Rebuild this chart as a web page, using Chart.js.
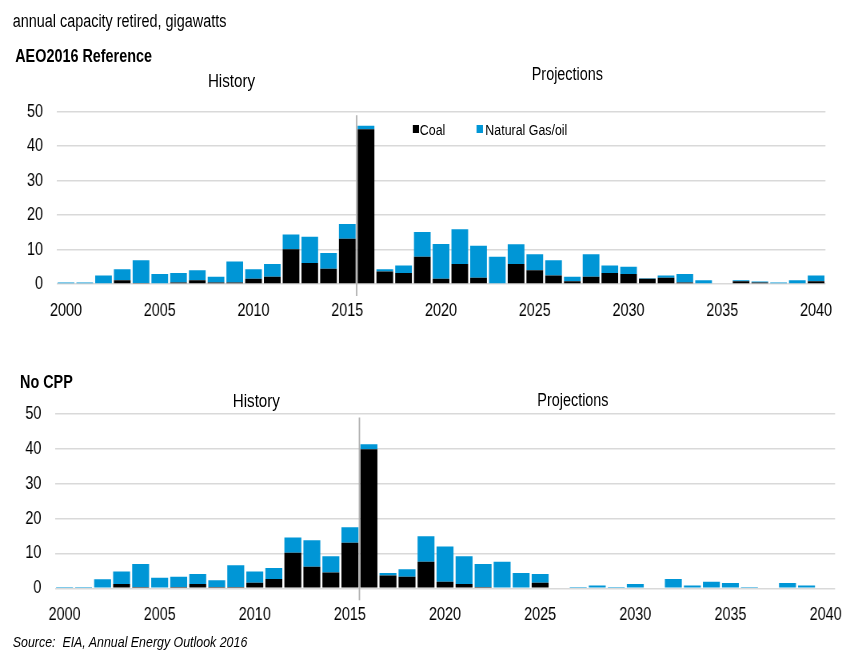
<!DOCTYPE html>
<html><head><meta charset="utf-8">
<script src="https://cdn.jsdelivr.net/npm/chart.js@4.4.1/dist/chart.umd.min.js"></script>
<style>
html,body{margin:0;padding:0;background:#fff}
body{width:842px;height:652px;position:relative;overflow:hidden}
#wrap{position:absolute;left:0;top:0;width:1053px;height:652px;transform:scaleX(0.79962);transform-origin:0 0;
  font-family:"Liberation Sans",Arial,sans-serif;color:#000}
.t{position:absolute;white-space:nowrap;line-height:1}
canvas{position:absolute;left:0}
.sq{position:absolute;width:8px;height:8px}
</style></head><body>
<div id="wrap">
<canvas id="c1" width="1053" height="240" style="top:95px;width:1053px;height:240px"></canvas>
<canvas id="c2" width="1053" height="240" style="top:400px;width:1053px;height:240px"></canvas>

<div class="t" style="left:16px;top:12px;font-size:18px">annual capacity retired, gigawatts</div>
<div class="t" style="left:19px;top:47px;font-size:18px;font-weight:bold">AEO2016 Reference</div>
<div class="t" style="left:260px;top:71px;font-size:19px">History</div>
<div class="t" style="left:665px;top:65px;font-size:18px">Projections</div>
<div class="sq" style="left:516px;top:125px;background:#000"></div>
<div class="t" style="left:525px;top:122px;font-size:15.5px">Coal</div>
<div class="sq" style="left:596px;top:125px;background:#0096d6"></div>
<div class="t" style="left:607px;top:122px;font-size:15.5px">Natural Gas/oil</div>

<div class="t" style="left:25px;top:373px;font-size:18px;font-weight:bold">No CPP</div>
<div class="t" style="left:291px;top:391px;font-size:19px">History</div>
<div class="t" style="left:672px;top:391px;font-size:18px">Projections</div>
<div class="t" style="left:16px;top:634px;font-size:15.5px;font-style:italic">Source:&nbsp; EIA, Annual Energy Outlook 2016</div>
</div>

<script>
const years = ['2000','2001','2002','2003','2004','2005','2006','2007','2008','2009','2010',
  '2011','2012','2013','2014','2015','2016','2017','2018','2019','2020',
  '2021','2022','2023','2024','2025','2026','2027','2028','2029','2030',
  '2031','2032','2033','2034','2035','2036','2037','2038','2039','2040'];
const xTickYears = ['2000','2005','2010','2015','2020','2025','2030','2035','2040'];
const yTicks = [0,10,20,30,40,50];

// AEO2016 Reference, gigawatts
const refCoal = [0,0,0,1.1,0.3,0,0.4,1.1,0.4,0.4,1.5,
  2.1,10.1,6.1,4.4,13.1,44.9,3.6,3.2,7.9,1.5,
  5.8,1.8,0,5.8,4.0,2.5,0.8,2.1,3.2,2.9,
  1.5,1.8,0.4,0,0,0.8,0.4,0,0,0.8];
const refGas = [0.4,0.4,2.5,3.2,6.6,2.9,2.8,2.9,1.7,6.1,2.8,
  3.7,4.3,7.6,4.6,4.3,1.0,0.7,2.2,7.2,10.1,
  10.1,9.3,7.9,5.7,4.6,4.4,1.3,6.5,2.2,2.1,
  0.2,0.7,2.5,1.1,0,0.3,0.3,0.4,1.1,1.7];

// No CPP, gigawatts
const noCppCoal = [0,0,0,1.2,0.4,0,0.4,1.2,0.4,0.4,1.6,
  2.7,10.2,6.2,4.5,13.1,39.9,3.7,3.3,7.6,1.9,
  1.2,0.4,0,0,1.6,0,0,0,0,0,
  0,0,0,0,0,0,0,0,0,0];
const noCppGas = [0.4,0.4,2.6,3.6,6.6,3.0,2.9,2.9,1.9,6.2,3.2,
  3.1,4.4,7.6,4.7,4.4,1.4,0.7,2.2,7.3,10.1,
  8.0,6.6,7.6,4.4,2.5,0,0.4,0.8,0.4,1.2,
  0,2.7,0.8,1.9,1.5,0.4,0,1.5,0.8,0];

const FONT = '"Liberation Sans",Arial,sans-serif';
const BLUE = '#0096d6';
const CLEAR = 'rgba(0,0,0,0)';

const divider = {
  id:'divider',
  beforeDatasetsDraw(chart){
    const x = chart.scales.x, y = chart.scales.y, ctx = chart.ctx;
    const px = (x.getPixelForValue(years.indexOf('2015')) + x.getPixelForValue(years.indexOf('2016')))/2;
    ctx.save();
    ctx.strokeStyle = '#b0b0b0';
    ctx.lineWidth = 1.8;
    ctx.beginPath();
    ctx.moveTo(px, y.getPixelForValue(49));
    ctx.lineTo(px, y.getPixelForValue(0) + 12);
    ctx.stroke();
    ctx.restore();
  }
};

function makeChart(id, coal, gas, want){
  const yW = want.left, xH = 240 - want.bottom;
  return new Chart(document.getElementById(id), {
    type:'bar',
    data:{labels:years, datasets:[
      {label:'Coal', data:coal, backgroundColor:'#000', barPercentage:0.89, categoryPercentage:1},
      {label:'Natural Gas/oil', data:gas, backgroundColor:BLUE, barPercentage:0.89, categoryPercentage:1}
    ]},
    options:{
      responsive:false, animation:false, devicePixelRatio:1,
      layout:{padding:{top:want.top, right:1053-want.right, bottom:0, left:0}},
      plugins:{legend:{display:false}, tooltip:{enabled:false}},
      scales:{
        x:{stacked:true,
          grid:{display:true, drawOnChartArea:false, drawTicks:true, tickLength:16, color:CLEAR, tickColor:CLEAR},
          border:{display:false},
          ticks:{autoSkip:false, maxRotation:0, minRotation:0, padding:0, color:'#000',
            font:{family:FONT, size:18},
            callback:function(v){ const l=this.getLabelForValue(v); return xTickYears.includes(l)?l:''; }},
          afterFit(s){ s.height = xH; }},
        y:{stacked:true, min:yTicks[0], max:yTicks[yTicks.length-1],
          afterBuildTicks(s){ s.ticks = yTicks.map(v=>({value:v})); },
          ticks:{padding:3, color:'#000', font:{family:FONT, size:18}},
          grid:{color:'#d9d9d9', lineWidth:1.5, drawTicks:true, tickLength:14, tickColor:CLEAR},
          border:{display:false},
          afterFit(s){ s.width = yW; }}
      }
    },
    plugins:[divider]
  });
}

makeChart('c1', refCoal, refGas, {left:70.8, right:1032.3, top:16.7, bottom:189});
makeChart('c2', noCppCoal, noCppGas, {left:68.8, right:1044.3, top:14, bottom:188.3});
</script>
</body></html>
